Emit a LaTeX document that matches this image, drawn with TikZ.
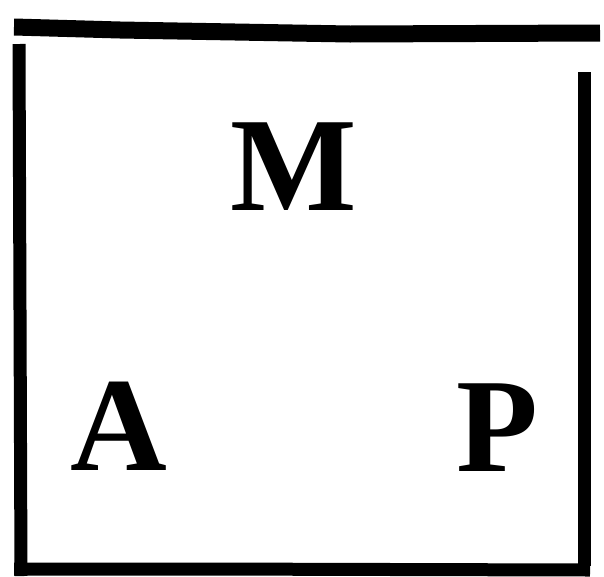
\documentclass[tikz,border=0pt]{standalone}
\usepackage{fontspec}
\setmainfont{Liberation Serif}
\begin{document}
\begin{tikzpicture}[x=1pt,y=-1pt,
  edge/.style={line width=13pt,line cap=butt,draw=black},
  letter/.style={inner sep=0pt,anchor=base,font=\bfseries\fontsize{134}{134}\selectfont}]
\useasboundingbox (0,0) rectangle (604,576);
\fill[white] (0,0) rectangle (604,576);
% top edge
\draw[line width=17pt] (14,27) -- (120,30) -- (350,34) -- (600,33);
% left edge
\draw[edge] (19,44) -- (21,576);
% right edge
\draw[edge] (584,72) -- (584,566);
% bottom edge
\draw[edge] (14,569) -- (200,569) -- (590,570);
\node[letter] (M) at (294,210) {M};
\node[letter] (A) at (119,470) {A};
\node[letter] (P) at (497,471) {P};
\end{tikzpicture}
\end{document}
